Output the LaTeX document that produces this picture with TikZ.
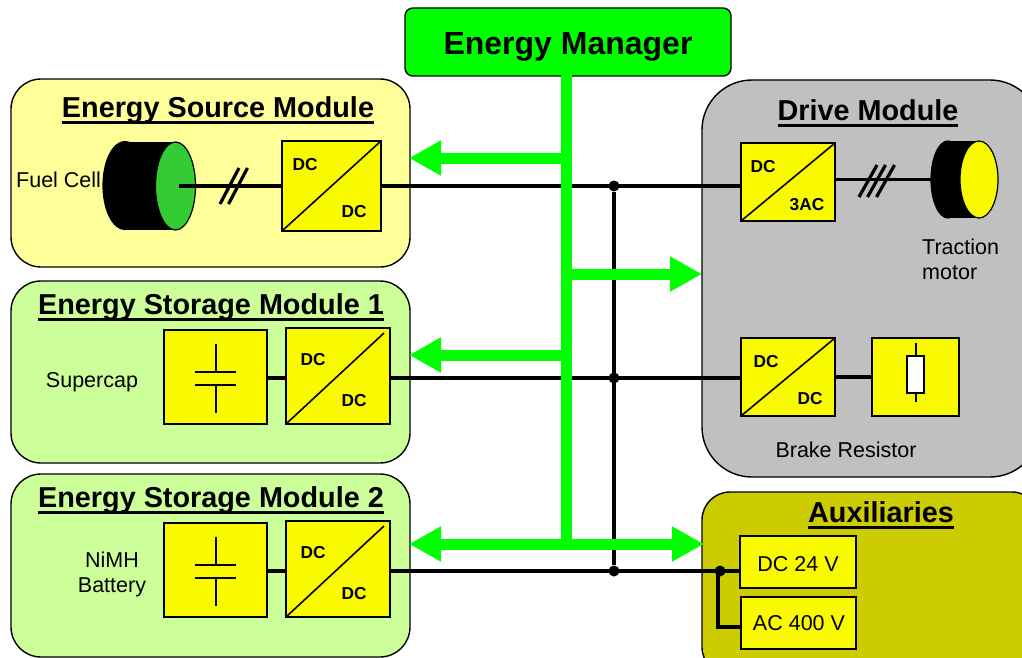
\documentclass[tikz,border=0pt]{standalone}
\usepackage{fontspec}
\setmainfont{Liberation Sans}
\usetikzlibrary{shapes.geometric,arrows.meta}
\newcommand{\fs}[1]{\fontsize{#1}{#1}\selectfont}
\newsavebox{\ulbox}
\newcommand{\ultitle}[1]{\sbox{\ulbox}{#1}\makebox[0pt][l]{\rule[-6.5pt]{\wd\ulbox}{3pt}}\usebox{\ulbox}}
\definecolor{srcfill}{HTML}{FFFF99}
\definecolor{storefill}{HTML}{CCFF99}
\definecolor{drivefill}{HTML}{C0C0C0}
\definecolor{auxfill}{HTML}{CCCC00}
\definecolor{boxfill}{HTML}{F9F900}
\definecolor{gbus}{HTML}{00FF00}
\definecolor{fcgreen}{HTML}{33CC33}
\tikzset{
 module/.style={draw=black,line width=1.4pt,rounded corners=#1,inner sep=0pt,outer sep=0pt},
 blockbox/.style={draw=black,line width=1.6pt,fill=boxfill,inner sep=0pt,outer sep=0pt},
 titletext/.style={anchor=base,inner sep=0pt,font=\fs{28.8}\bfseries},
 plain/.style={anchor=base,inner sep=0pt,font=\fs{21.5}},
 dctext/.style={anchor=base,inner sep=0pt,font=\fs{17.3}\bfseries},
 power/.style={draw=black,line width=3.5pt},
 thin sym/.style={draw=black,line width=1.6pt},
 dotj/.style={circle,fill=black,inner sep=0pt,minimum size=11pt},
 ctrl/.style={draw=gbus,line width=11pt},
 ctrlarrow/.style={ctrl,-{Triangle[length=32pt,width=33pt]}},
 ctrlboth/.style={ctrl,{Triangle[length=32pt,width=33pt]}-{Triangle[length=32pt,width=33pt]}},
 cylface/.style={ellipse,draw=black,line width=1.2pt,inner sep=0pt,outer sep=0pt},
}
\newcommand{\modbox}[7]{%
 \node[module=#6,fill=#7,minimum width={#4-#2},minimum height={#5-#3}] (#1) at ({(#2+#4)/2},{(#3+#5)/2}) {};}
\newcommand{\blk}[5]{%
 \node[blockbox,minimum width={#4-#2},minimum height={#5-#3}] (#1) at ({(#2+#4)/2},{(#3+#5)/2}) {};}
\begin{document}
\begin{tikzpicture}[x=1pt,y=-1pt]
\useasboundingbox (0,0) rectangle (1022,658);
\clip (0,0) rectangle (1022,658);
% modules
\modbox{src}{11}{79}{410}{267}{30pt}{srcfill}
\modbox{sto1}{11}{281}{410}{463}{30pt}{storefill}
\modbox{sto2}{11}{474}{410}{657}{30pt}{storefill}
\modbox{drv}{702}{80}{1040}{477}{50pt}{drivefill}
\modbox{aux}{702}{492}{1040}{675}{28pt}{auxfill}
\node[module=8pt,fill=gbus,minimum width=326pt,minimum height=68pt] (em) at (568,42) {};
% titles
\node[anchor=base,inner sep=0pt,font=\fs{32}\bfseries] (emt) at (568,54.5) {Energy Manager};
\node[titletext] (srct) at (218,117.5) {\ultitle{Energy Source Module}};
\node[titletext] (s1t) at (211,314.5) {\ultitle{Energy Storage Module 1}};
\node[titletext] (s2t) at (211,507.5) {\ultitle{Energy Storage Module 2}};
\node[titletext] (drvt) at (868,120.5) {\ultitle{Drive Module}};
\node[titletext] (auxt) at (881,522) {\ultitle{Auxiliaries}};
% blocks
\blk{sdc}{282}{141}{381}{231}
\blk{c1}{164}{330}{267}{424}
\blk{d1}{286}{328}{390}{424}
\blk{c2}{164}{523}{267}{617}
\blk{d2}{286}{521}{390}{617}
\blk{ddc}{741}{143}{835}{221}
\blk{bdc}{741}{338}{835}{416}
\blk{res}{872}{338}{959}{416}
\blk{dc24}{740}{536}{856}{588}
\blk{ac400}{741}{597}{856}{649}
% diagonals
\draw[thin sym] (sdc.south west) -- (sdc.north east);
\draw[thin sym] (d1.south west) -- ([xshift=-6pt,yshift=-5pt]d1.north east);
\draw[thin sym] (d2.south west) -- ([xshift=-6pt,yshift=-5pt]d2.north east);
\draw[thin sym] (ddc.south west) -- (ddc.north east);
\draw[thin sym] (bdc.south west) -- (bdc.north east);
% fuel cell
\node[cylface,fill=black,minimum width=44pt,minimum height=88pt] (fcb) at (125,185.5) {};
\fill[black] (125,141.5) rectangle (175.5,229.5);
\node[cylface,fill=fcgreen,minimum width=40pt,minimum height=88pt] (fc) at (175.5,186) {};
% motor
\node[cylface,fill=black,minimum width=34pt,minimum height=77pt] (mb) at (948,179.5) {};
\fill[black] (948,141) rectangle (979,218);
\node[cylface,fill=boxfill,minimum width=38pt,minimum height=77pt] (mot) at (979,179.5) {};
% power lines
\node[dotj] (j1) at (614,186) {};
\node[dotj] (j2) at (614,378) {};
\node[dotj] (j3) at (614,571) {};
\node[dotj] (j4) at (720,571) {};
\coordinate (acturn) at (718,627);
\draw[power] ([xshift=3.5pt]fc.center) -- (sdc.west);
\draw[power] (sdc.east) -- (ddc.west |- sdc.east);
\draw[power] (ddc.east |- mot.center) -- (mb.center -| mot.west);
\draw[power] (d1.east |- j2) -- (bdc.west |- j2);
\draw[power] (bdc.east) -- (res.west);
\draw[power] (c1.east |- j2) -- (d1.west |- j2);
\draw[power] (c2.east |- j3) -- (d2.west |- j3);
\draw[power] (d2.east |- j3) -- (dc24.west |- j3);
\draw[power] (j1) -- (j3);
\draw[power] (j4.center -| acturn) -- (acturn) -- (ac400.west |- acturn);
% slashes
\draw[power,line width=3.2pt] (220,204) -- (239,168);
\draw[power,line width=3.2pt] (228.5,204) -- (247.5,168);
\draw[power,line width=3.2pt] (859,197) -- (877,165);
\draw[power,line width=3.2pt] (867.5,197) -- (885.5,165);
\draw[power,line width=3.2pt] (876.5,197) -- (894.5,165);
% capacitors
\foreach \yy/\n in {372/1,565/2}{
 \draw[thin sym] (216,\yy-28) -- (216,\yy) (195,\yy) -- (236,\yy);
 \draw[thin sym] (195,\yy+13) -- (236,\yy+13) (216,\yy+13) -- (216,\yy+41);
}
% resistor
\draw[thin sym] (916,343) -- (916,402);
\node[blockbox,fill=white,minimum width=17pt,minimum height=37pt] (rr) at (915.5,374.5) {};
% green control
\coordinate (busend) at (566,549);
\coordinate (a1s) at (566,158); \coordinate (a1t) at (409,158);
\coordinate (a2s) at (566,274); \coordinate (a2t) at (702,274);
\coordinate (a3s) at (566,355); \coordinate (a3t) at (409,355);
\coordinate (a4s) at (409,544); \coordinate (a4t) at (704,544);
\draw[ctrl] (566,70) -- (busend);
\draw[ctrlarrow] (a1s) -- (a1t);
\draw[ctrlarrow] (a2s) -- (a2t);
\draw[ctrlarrow] (a3s) -- (a3t);
\draw[ctrlboth] (a4s) -- (a4t);
% texts
\node[plain,anchor=base west] (t1) at (16,187.7) {Fuel Cell};
\node[plain] (t2) at (92,387) {Supercap};
\node[plain] (t3) at (112,567) {NiMH};
\node[plain] (t4) at (112,592) {Battery};
\node[plain,anchor=base west] (t5) at (922,254) {Traction};
\node[plain,anchor=base west] (t6) at (922,279) {motor};
\node[plain] (t7) at (846,457) {Brake Resistor};
\node[plain] (t8) at (798,571) {DC 24 V};
\node[plain] (t9) at (799,630) {AC 400 V};
\node[dctext] at (305,170) {DC};
\node[dctext] at (354,217) {DC};
\node[dctext] at (313,365) {DC};
\node[dctext] at (354,406) {DC};
\node[dctext] at (313,558) {DC};
\node[dctext] at (354,599) {DC};
\node[dctext] at (763,172) {DC};
\node[dctext] at (807,210) {3AC};
\node[dctext] at (766,367) {DC};
\node[dctext] at (810,404) {DC};
\end{tikzpicture}
\end{document}
